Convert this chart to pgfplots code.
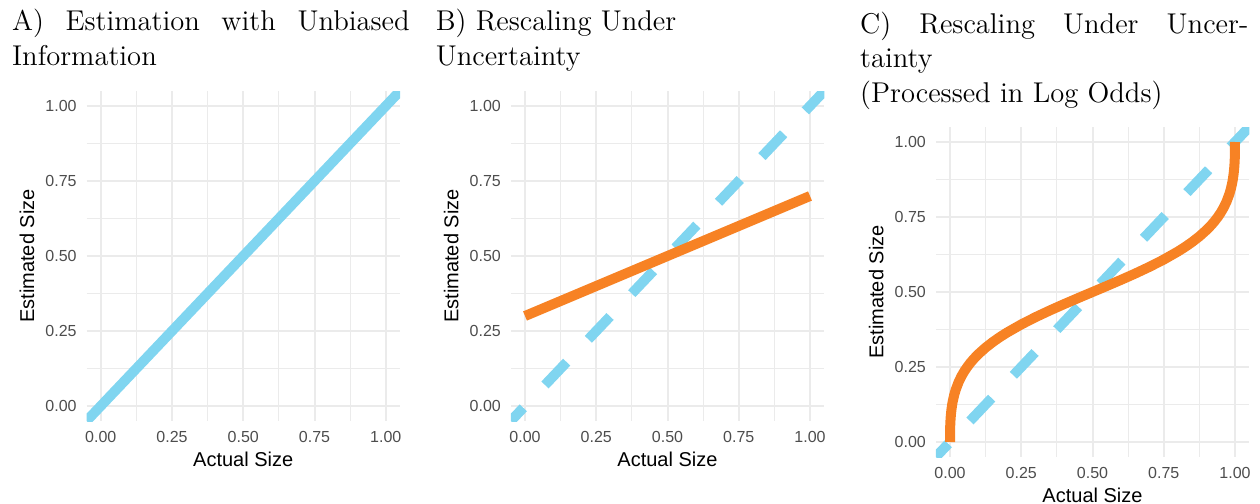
\documentclass[border=0pt]{standalone}
\usepackage{fontspec}
\usepackage{pgfplots}
\pgfplotsset{compat=1.18}
\newfontfamily\lsans{Liberation Sans}
\definecolor{skyb}{RGB}{128,213,240}
\definecolor{orng}{RGB}{247,130,36}
\definecolor{gridg}{RGB}{235,235,235}
\definecolor{tickg}{RGB}{77,77,77}

\pgfplotsset{
 panel/.style={
  scale only axis, width=156.75pt, height=165pt,
  anchor=north west,
  xmin=-0.05,xmax=1.05,ymin=-0.05,ymax=1.05,
  xtick={0,0.25,0.5,0.75,1}, ytick={0,0.25,0.5,0.75,1},
  xticklabels={0.00,0.25,0.50,0.75,1.00},
  yticklabels={0.00,0.25,0.50,0.75,1.00},
  minor xtick={0.125,0.375,0.625,0.875},
  minor ytick={0.125,0.375,0.625,0.875},
  grid=both,
  major grid style={draw=gridg, line width=1pt},
  minor grid style={draw=gridg, line width=0.6pt},
  axis line style={draw=none},
  tick style={draw=none},
  major tick length=0pt, minor tick length=0pt,
  /pgf/number format/assume math mode=true,
  tick label style={font=\lsans\fontsize{8}{9.6}\selectfont, text=tickg, inner sep=0pt},
  xticklabel shift=5pt, yticklabel shift=4.75pt,
  every axis x label/.style={at={([yshift=-19pt]rel axis cs:0.5,0)}, anchor=center, font=\lsans\fontsize{10}{12}\selectfont},
  every axis y label/.style={at={([xshift=-29.75pt]rel axis cs:0,0.5)}, rotate=90, anchor=center, font=\lsans\fontsize{10}{12}\selectfont},
  xlabel={Actual Size}, ylabel={Estimated Size},
 },
 diag/.style={draw=skyb, line width=5pt, line cap=butt},
 dashdiag/.style={draw=skyb, line width=5pt, line cap=butt, dash pattern=on 15.75pt off 15.75pt, dash phase=6.65pt},
 orl/.style={draw=orng, line width=5pt, line cap=butt, line join=round},
}

\begin{document}
\begin{tikzpicture}
\useasboundingbox (0,0) rectangle (630pt,-252pt);
\tikzset{ttl/.style={anchor=base west, inner sep=0pt, font=\fontsize{14.3}{17.2}\selectfont}}

% Titles
\node[ttl] at (5.85pt,-15.25pt) {\makebox[198.8pt][s]{A) Estimation with Unbiased}};
\node[ttl] at (5.85pt,-32.6pt) {Information};
\node[ttl] at (217.7pt,-15.25pt) {B) Rescaling Under};
\node[ttl] at (217.7pt,-32.6pt) {Uncertainty};
\node[ttl] at (429.9pt,-16.5pt) {\makebox[194.1pt][s]{C) Rescaling Under Uncer-}};
\node[ttl] at (429.9pt,-33.8pt) {tainty};
\node[ttl] at (429.9pt,-51pt) {(Processed in Log Odds)};

% Panel A
\begin{axis}[panel, at={(43.25pt,-45.5pt)}]
\addplot[diag] coordinates {(-0.05,-0.05) (1.05,1.05)};
\end{axis}

% Panel B
\begin{axis}[panel, at={(255.375pt,-45.5pt)}]
\addplot[dashdiag] coordinates {(-0.05,-0.05) (1.05,1.05)};
\addplot[orl] coordinates {(0,0.3) (1,0.7)};
\end{axis}

% Panel C
\begin{axis}[panel, at={(467.875pt,-63.5pt)}]
\addplot[dashdiag] coordinates {(-0.05,-0.05) (1.05,1.05)};
\addplot[orl] coordinates {
(0,0) (0.0005,0.04565) (0.001,0.05938) (0.002,0.07691) (0.003,0.08928)
(0.005,0.10742) (0.0075,0.12411) (0.01,0.13728) (0.015,0.15790)
(0.02,0.17410) (0.03,0.19935) (0.04,0.21905) (0.05,0.23545)
(0.06,0.24962) (0.07,0.26218) (0.08,0.27348) (0.09,0.28385) (0.1,0.29341)
(0.125,0.31467) (0.15,0.33318)
(0.175,0.34973) (0.2,0.36481) (0.25,0.39187) (0.3,0.41607) (0.35,0.43841)
(0.4,0.45954) (0.45,0.47994) (0.5,0.5) (0.55,0.52006) (0.6,0.54046)
(0.65,0.56159) (0.7,0.58393) (0.75,0.60813) (0.8,0.63519) (0.825,0.65027)
(0.85,0.66682) (0.875,0.68533) (0.9,0.70659) (0.91,0.71615) (0.92,0.72652)
(0.93,0.73782) (0.94,0.75038) (0.95,0.76455) (0.96,0.78095) (0.97,0.80065)
(0.98,0.82590) (0.985,0.84210) (0.99,0.86272) (0.9925,0.87589) (0.995,0.89258)
(0.997,0.91072) (0.998,0.92309) (0.999,0.94062) (0.9995,0.95435) (1,1)};
\end{axis}
\end{tikzpicture}
\end{document}
